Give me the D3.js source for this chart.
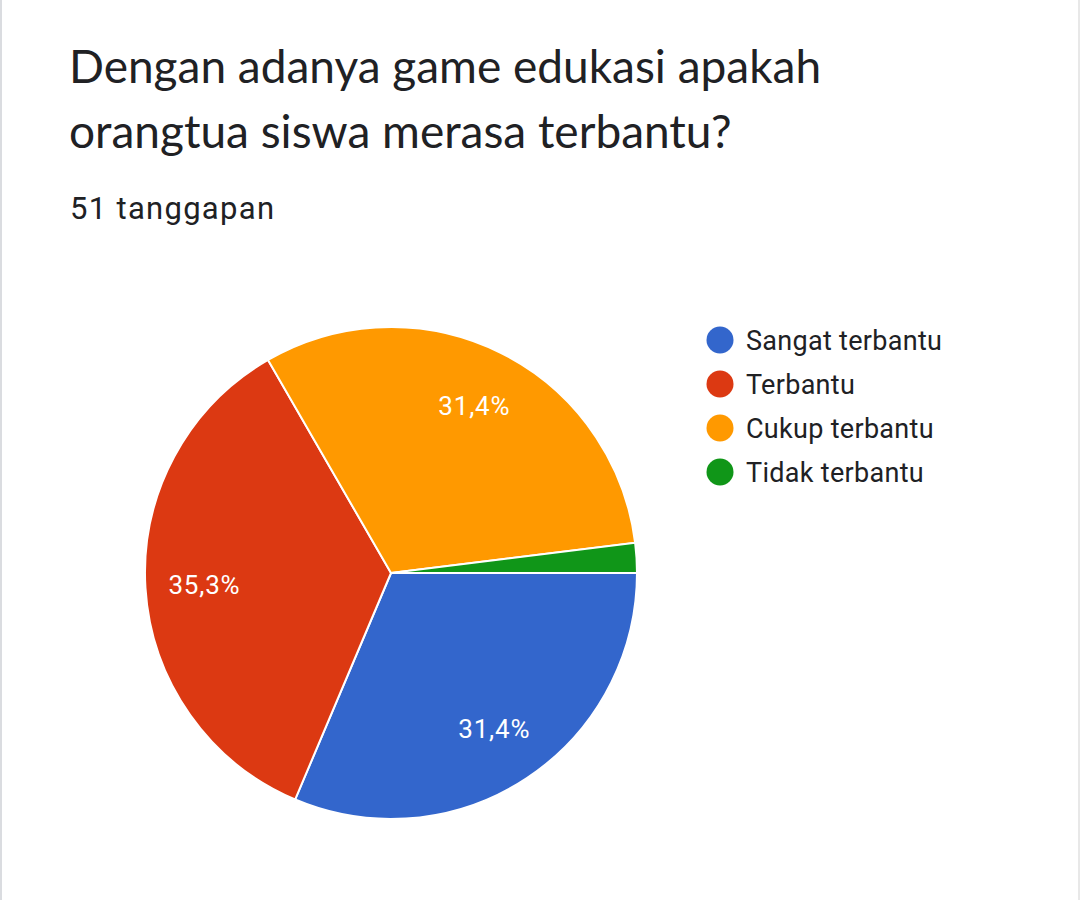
<!DOCTYPE html>
<html>
<head>
<meta charset="utf-8">
<script src="https://cdn.jsdelivr.net/npm/d3@7"></script>
<style>
  html, body { margin: 0; padding: 0; background: #fff; }
  svg { display: block; }
</style>
</head>
<body>
<div id="chart"></div>
<script>
// data
var titleLines = ["Dengan adanya game edukasi apakah", "orangtua siswa merasa terbantu?"];
var subtitle = "51 tanggapan";
var categories = ["Sangat terbantu", "Terbantu", "Cukup terbantu", "Tidak terbantu"];
var counts = [16, 18, 16, 1];
var colors = ["#3366cc", "#dc3912", "#ff9900", "#109618"];

var width = 1080, height = 900;
var cx = 391, cy = 573, radius = 246;

var svg = d3.select("#chart").append("svg")
    .attr("width", width).attr("height", height);

svg.append("rect").attr("x", 0).attr("y", 0).attr("width", width).attr("height", height).attr("fill", "#fff");
// card edges
svg.append("rect").attr("x", 0).attr("y", 0).attr("width", 2).attr("height", height).attr("fill", "#dadce0");
svg.append("rect").attr("x", width - 2).attr("y", 0).attr("width", 2).attr("height", height).attr("fill", "#e8e8e8");

svg.selectAll("text.title").data(titleLines).enter().append("text")
    .attr("class", "title")
    .attr("x", 69).attr("y", function(d, i) { return 83 + i * 65; })
    .attr("font-family", "Lato, 'Open Sans', sans-serif")
    .attr("font-size", 46).attr("fill", "#202124")
    .text(function(d) { return d; });

svg.append("text")
    .attr("x", 70).attr("y", 219)
    .attr("font-family", "Roboto, sans-serif")
    .attr("font-size", 31).attr("letter-spacing", 1.3).attr("fill", "#202124")
    .text(subtitle);

var total = d3.sum(counts);
var color = d3.scaleOrdinal().domain(categories).range(colors);

var pie = d3.pie().sort(null).value(function(d) { return d.value; })
    .startAngle(Math.PI / 2).endAngle(Math.PI / 2 + 2 * Math.PI);
var arcs = pie(categories.map(function(c, i) { return { name: c, value: counts[i] }; }));

var arc = d3.arc().innerRadius(0).outerRadius(radius);
var labelArc = d3.arc().innerRadius(radius * 0.76).outerRadius(radius * 0.76);

var g = svg.append("g").attr("transform", "translate(" + cx + "," + cy + ")");

g.selectAll("path").data(arcs).enter().append("path")
    .attr("d", arc)
    .attr("fill", function(d) { return color(d.data.name); })
    .attr("stroke", "#fff").attr("stroke-width", 2);

function fmt(v) {
    return (Math.round(v / total * 1000) / 10).toFixed(1).replace(".", ",") + "%";
}

g.selectAll("text.pct").data(arcs.filter(function(d) { return d.value / total > 0.05; })).enter().append("text")
    .attr("class", "pct")
    .attr("transform", function(d) { return "translate(" + labelArc.centroid(d) + ")"; })
    .attr("text-anchor", "middle").attr("dy", "0.36em")
    .attr("font-family", "Roboto, sans-serif")
    .attr("font-size", 26).attr("letter-spacing", 0.8).attr("fill", "#fff")
    .text(function(d) { return fmt(d.value); });

var legend = svg.append("g").attr("transform", "translate(720,340)");
var item = legend.selectAll("g").data(categories).enter().append("g")
    .attr("transform", function(d, i) { return "translate(0," + i * 44 + ")"; });
item.append("circle").attr("r", 13.5).attr("fill", function(d) { return color(d); });
item.append("text").attr("x", 26).attr("dy", "0.36em")
    .attr("font-family", "Roboto, sans-serif")
    .attr("font-size", 27).attr("letter-spacing", 0.3).attr("fill", "#202124")
    .text(function(d) { return d; });
</script>
</body>
</html>
